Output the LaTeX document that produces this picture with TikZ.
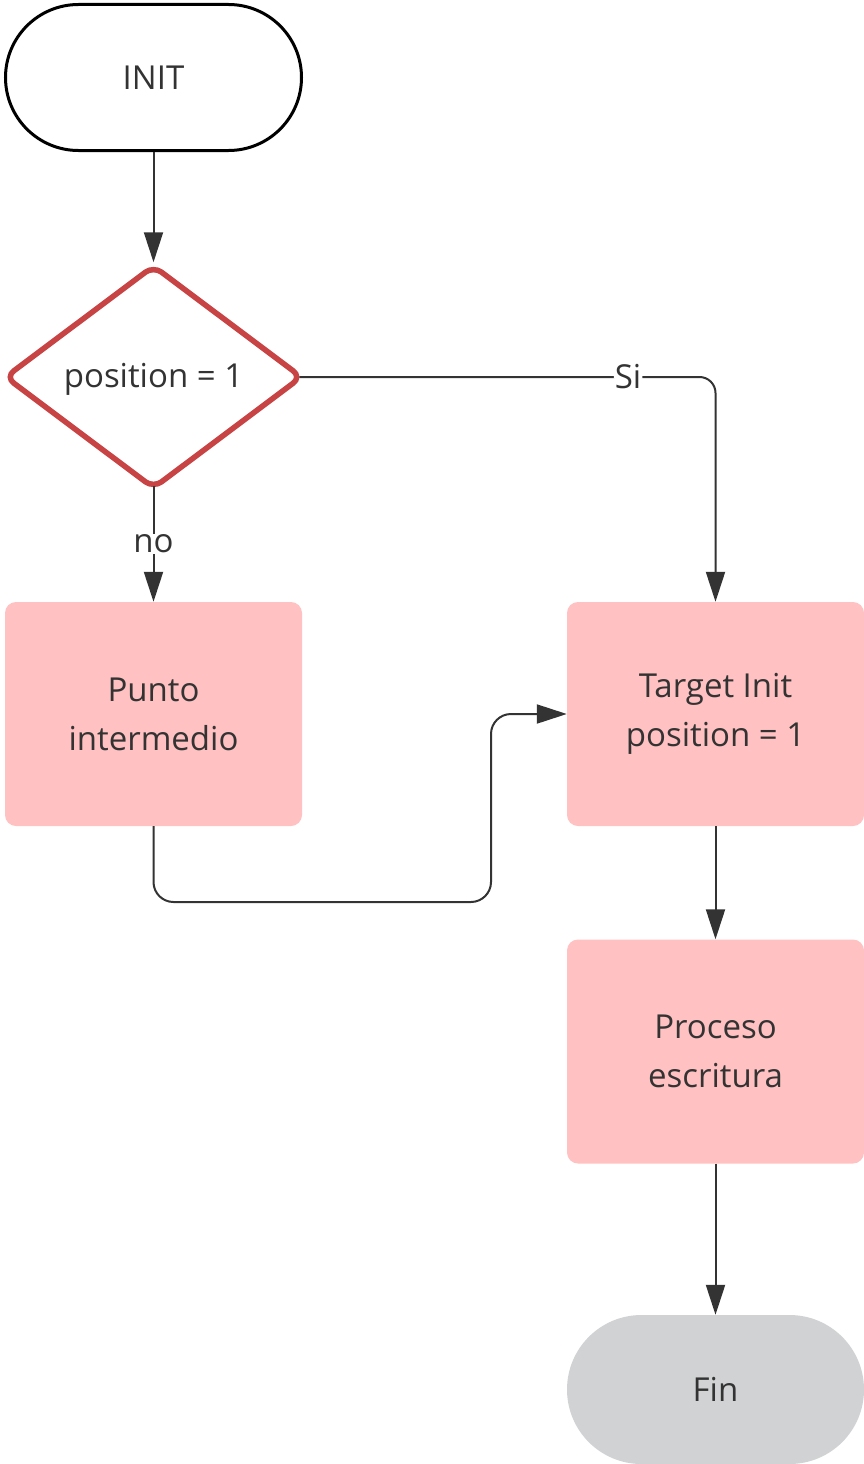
\documentclass[tikz,border=0pt]{standalone}
\usepackage{fontspec}
\setmainfont{Open Sans}
\usetikzlibrary{shapes.geometric,arrows.meta}
\definecolor{txt}{HTML}{333333}
\definecolor{pinkbox}{HTML}{FFC1C1}
\definecolor{grayend}{HTML}{D1D2D4}
\definecolor{redline}{HTML}{C84444}
\tikzset{
  every node/.style={font=\fontsize{33}{49}\selectfont, text=txt, align=center},
  proc/.style={rectangle, rounded corners=11pt, fill=pinkbox, minimum width=297pt, minimum height=224pt, inner sep=0pt},
  startend/.style={rectangle, rounded corners=73pt, draw=black, line width=3pt, fill=white, minimum width=296pt, minimum height=146pt, inner sep=0pt},
  endterm/.style={rectangle, rounded corners=74.5pt, fill=grayend, minimum width=297pt, minimum height=149pt, inner sep=0pt},
  decision/.style={diamond, draw=redline, line width=5.5pt, rounded corners=10pt, minimum width=298pt, minimum height=224pt, inner sep=0pt, fill=white, text height=29pt, text depth=8pt},
  conn/.style={draw=txt, line width=2pt, -{Triangle[length=30pt,width=19pt]}},
  lbl/.style={fill=white, inner sep=1pt}
}
\begin{document}
\begin{tikzpicture}[x=1pt,y=-1pt]
\useasboundingbox (0,0) rectangle (864,1464);
\node[startend] (init) at (153.5,77.5) {INIT};
\node[decision] (dec) at (153.5,377) {position = 1};
\node[proc] (punto) at (153.5,714) {Punto\\intermedio};
\node[proc] (target) at (715.5,714) {Target Init\\position = 1};
\node[proc] (proceso) at (715.5,1051.5) {Proceso\\escritura};
\node[endterm] (fin) at (715.5,1389.5) {Fin};
\coordinate (via) at (491,902);

\draw[conn] (init.south) -- (dec.north);
\draw[conn] ([yshift=6pt]dec.south) -- node[lbl, pos=0.5] (nolbl) {no} (punto.north);
\draw[conn, rounded corners=16pt] ([xshift=-6pt]dec.east) -| node[lbl, pos=0.395] (silbl) {Si} (target.north);
\draw[conn, rounded corners=20pt] (punto.south) |- (via) |- (target.west);
\draw[conn] (target.south) -- (proceso.north);
\draw[conn] (proceso.south) -- (fin.north);
\end{tikzpicture}
\end{document}
